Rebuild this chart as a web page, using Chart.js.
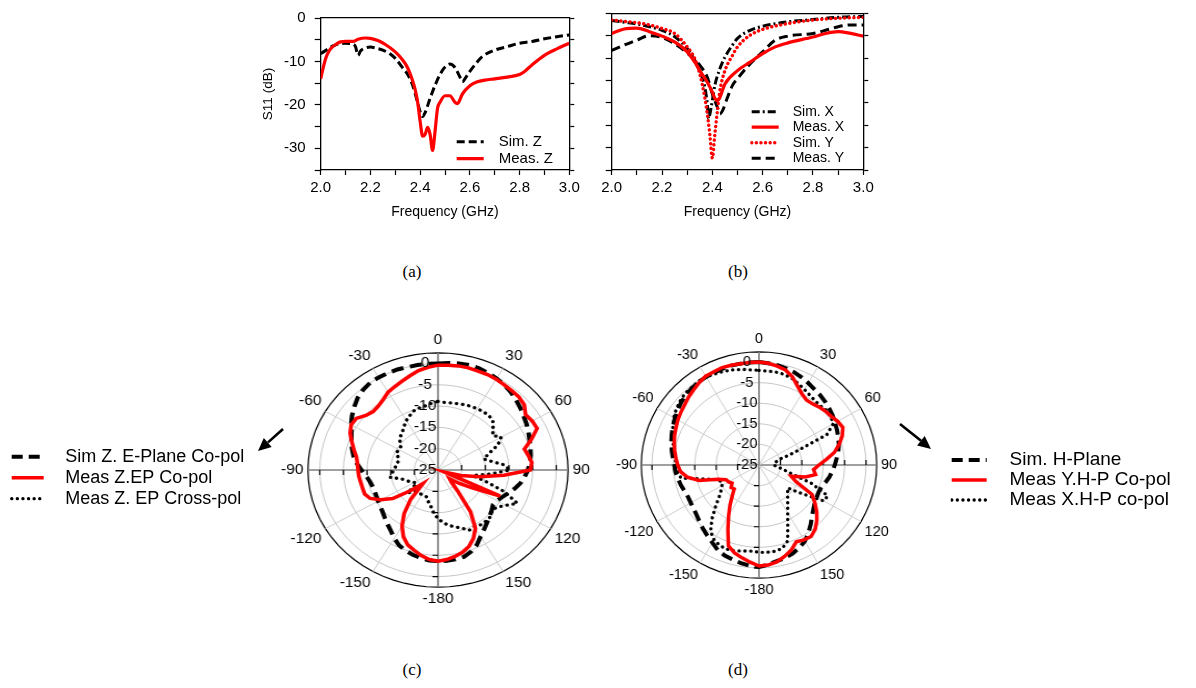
<!DOCTYPE html>
<html lang="en">
<head>
<meta charset="utf-8">
<title>S11 and radiation patterns</title>
<script src="https://cdn.jsdelivr.net/npm/chart.js@4.4.1/dist/chart.umd.min.js"></script>
<style>
  html, body { margin: 0; padding: 0; background: #fff; }
  body { position: relative; width: 1196px; height: 688px; overflow: hidden; }
  canvas { position: absolute; }
  .cap { position: absolute; width: 60px; margin-left: -30px; text-align: center;
         font: 17px/20px "Liberation Serif", "DejaVu Serif", serif; color: #000; }
  svg { position: absolute; left: 0; top: 0; }
</style>
</head>
<body>
<canvas id="s11Z" width="345" height="225" style="left:250px;top:0"></canvas>
<canvas id="s11XY" width="290" height="225" style="left:595px;top:0"></canvas>
<canvas id="patternE" width="340" height="276" style="left:268.3px;top:333px;transform:scaleX(1.11);transform-origin:170px 138px"></canvas>
<canvas id="patternH" width="340" height="268" style="left:588.5px;top:332px;transform:scaleX(1.04);transform-origin:170px 134px"></canvas>
<canvas id="legendE" width="290" height="90" style="left:0;top:430px"></canvas>
<canvas id="legendH" width="266" height="90" style="left:930px;top:430px"></canvas>

<div class="cap" style="left:412px;top:262px">(a)</div>
<div class="cap" style="left:738px;top:262px">(b)</div>
<div class="cap" style="left:412px;top:660px">(c)</div>
<div class="cap" style="left:738px;top:660px">(d)</div>

<svg width="1196" height="688">
  <line x1="283" y1="429" x2="268" y2="442.4" stroke="#000" stroke-width="2.6"/>
  <polygon points="258,451 263.8,437.9 271.7,446.9" fill="#000"/>
  <line x1="900" y1="424" x2="921" y2="440.8" stroke="#000" stroke-width="2.6"/>
  <polygon points="931,449 917.1,445.5 924.7,436.1" fill="#000"/>
</svg>

<script>
// ---------- (a) S11, Z orientation ----------
const simZFreq = [2.00, 2.02, 2.04, 2.06, 2.08, 2.10, 2.12, 2.13, 2.14, 2.15, 2.16, 2.18, 2.20, 2.22, 2.25,
  2.28, 2.30, 2.33, 2.35, 2.37, 2.39, 2.40, 2.41, 2.42, 2.44, 2.46, 2.48, 2.50, 2.52, 2.54, 2.56, 2.57,
  2.58, 2.60, 2.62, 2.65, 2.70, 2.75, 2.80, 2.85, 2.90, 2.95, 3.00];
const simZ = [-8.2, -7.5, -6.7, -6.2, -5.9, -5.8, -5.9, -6.0, -6.6, -8.6, -7.6, -6.9, -6.7, -6.9, -7.4,
  -8.3, -9.3, -11.5, -13.0, -15.5, -19.5, -21.6, -22.7, -21.8, -18.5, -15.5, -13.0, -11.3, -10.6, -11.4, -13.6, -14.7,
  -14.0, -12.3, -10.8, -8.9, -7.4, -6.6, -5.8, -5.4, -4.8, -4.3, -3.9];
const measZFreq = [2.00, 2.01, 2.02, 2.03, 2.04, 2.06, 2.08, 2.10, 2.13, 2.15, 2.18, 2.20, 2.23, 2.26, 2.30,
  2.33, 2.35, 2.37, 2.38, 2.39, 2.40, 2.41, 2.42, 2.43, 2.44, 2.45, 2.46, 2.47, 2.48, 2.50, 2.52, 2.54,
  2.55, 2.57, 2.60, 2.63, 2.66, 2.70, 2.75, 2.80, 2.82, 2.85, 2.90, 2.95, 3.00];
const measZ = [-14.0, -11.5, -9.3, -8.0, -7.1, -6.1, -5.5, -5.4, -5.4, -4.9, -4.6, -4.7, -5.2, -6.1, -7.8,
  -9.7, -11.5, -14.5, -16.5, -19.4, -23.8, -27.2, -26.8, -25.2, -26.8, -30.5, -26.1, -20.8, -19.4, -17.9, -17.9, -19.4,
  -19.7, -17.5, -15.6, -14.7, -14.3, -14.0, -13.6, -13.0, -12.3, -10.8, -8.6, -7.1, -5.8];

// ---------- (b) S11, X and Y orientations ----------
const simXFreq = [2.00, 2.05, 2.10, 2.15, 2.20, 2.25, 2.30, 2.33, 2.35, 2.37, 2.38, 2.385, 2.39, 2.40, 2.41,
  2.43, 2.45, 2.48, 2.50, 2.55, 2.60, 2.70, 2.80, 2.90, 3.00];
const simX = [-1.6, -2.0, -2.4, -3.0, -3.8, -5.2, -7.9, -10.5, -12.8, -16.5, -20.3, -23.5, -22.6, -19.5, -16.1,
  -12.4, -9.8, -7.1, -5.6, -3.8, -2.9, -1.9, -1.4, -0.9, -0.7];
const measXFreq = [2.00, 2.05, 2.10, 2.15, 2.20, 2.25, 2.30, 2.33, 2.35, 2.38, 2.40, 2.41, 2.42, 2.43, 2.45,
  2.50, 2.55, 2.60, 2.65, 2.70, 2.80, 2.85, 2.90, 2.95, 3.00];
const measX = [-4.5, -3.5, -3.3, -4.1, -5.1, -6.4, -8.6, -10.9, -12.8, -15.4, -17.6, -19.0, -19.5, -18.8, -15.8,
  -12.8, -10.9, -9.0, -7.5, -6.6, -5.3, -4.5, -4.1, -4.5, -5.1];
const simYFreq = [2.00, 2.05, 2.10, 2.15, 2.20, 2.25, 2.30, 2.33, 2.35, 2.37, 2.38, 2.39, 2.40, 2.41, 2.42,
  2.43, 2.45, 2.48, 2.50, 2.55, 2.60, 2.70, 2.80, 2.90, 3.00];
const simY = [-1.5, -1.8, -2.1, -2.6, -3.4, -4.5, -7.5, -10.1, -13.5, -18.8, -22.5, -27.0, -32.3, -27.0, -21.8,
  -17.3, -12.8, -9.4, -7.5, -4.9, -3.6, -2.3, -1.5, -1.1, -0.9];
const measYFreq = [2.00, 2.05, 2.10, 2.15, 2.20, 2.25, 2.30, 2.35, 2.38, 2.40, 2.42, 2.43, 2.44, 2.46, 2.48,
  2.50, 2.55, 2.60, 2.65, 2.70, 2.80, 2.85, 2.90, 2.95, 3.00];
const measY = [-8.3, -7.1, -6.0, -5.0, -5.4, -6.8, -8.9, -11.6, -14.3, -18.0, -21.0, -22.5, -21.8, -18.8, -16.1,
  -14.6, -11.3, -8.6, -6.0, -5.1, -4.5, -3.8, -3.0, -2.6, -2.6];

// axis labels of the S11 panels
const freqLabels = [2.0, 2.2, 2.4, 2.6, 2.8, 3.0];
const s11Labels = [0, -10, -20, -30];

// ---------- (c), (d) radiation patterns, 5 degree steps ----------
const patternAngles = [0, 5, 10, 15, 20, 25, 30, 35, 40, 45, 50, 55, 60, 65, 70, 75, 80, 85, 90, 95, 100, 105,
  110, 115, 120, 125, 130, 135, 140, 145, 150, 155, 160, 165, 170, 175, -180, -175, -170, -165, -160, -155,
  -150, -145, -140, -135, -130, -125, -120, -115, -110, -105, -100, -95, -90, -85, -80, -75, -70, -65, -60,
  -55, -50, -45, -40, -35, -30, -25, -20, -15, -10, -5];
const ringLevels = [-25, -20, -15, -10, -5, 0];

const simZEPlane = [0, 0.2, 0.4, 0.5, 0.4, 0.1, -0.2, -0.6, -1.1, -1.7,
  -2.3, -2.9, -3.4, -3.9, -4.4, -4.8, -5.1, -5.5, -6.0, -6.6,
  -7.3, -8.2, -9.2, -10.0, -10.6, -10.8, -10.2, -9.6, -8.9, -8.0,
  -7.0, -5.6, -4.6, -3.9, -3.7, -3.6,
  -3.6, -3.7, -4.0, -4.4, -4.9, -5.5, -6.5, -7.6, -8.4, -9.1,
  -9.7, -10.1, -10.4, -10.6, -10.7, -10.6, -10.3, -9.7, -8.8, -7.8,
  -6.9, -6.2, -5.5, -4.8, -3.8, -2.8, -1.9, -1.0, -0.4, 0,
  0.1, 0.1, 0.1, 0, 0, 0];
const measZEPlane = [-0.4, -0.3, -0.2, -0.2, -0.3, -0.3, -0.4, -0.6, -0.7, -0.8,
  -1.2, -2.4, -2.0, -1.9, -4.0, -6.1, -5.6, -5.1, -5.5, -11.0,
  -16.0, -20.0, -23.5, -10.5, -16.5, -19.5, -21.8, -21.0, -18.5, -13.0,
  -9.2, -7.3, -5.9, -5.0, -4.4, -3.9,
  -3.6, -3.9, -4.6, -5.5, -6.3, -7.7, -9.8, -12.5, -16.0, -20.5,
  -17.5, -13.3, -11.0, -9.2, -8.5, -8.5, -8.4, -8.2, -8.1, -7.9,
  -7.5, -6.6, -5.6, -4.5, -3.8, -3.9, -5.1, -5.6, -5.4, -4.8,
  -3.9, -3.4, -2.8, -2.1, -1.3, -0.8];
const measZCross = [-8.9, -9.1, -9.0, -8.9, -8.7, -8.5, -8.4, -8.3, -8.3, -8.6,
  -9.8, -10.9, -9.6, -11.0, -13.5, -15.0, -13.5, -11.0, -9.8, -14.0,
  -17.5, -14.5, -10.0, -6.5, -8.4, -9.8, -10.2, -9.4, -9.3, -9.3,
  -9.6, -9.4, -10.5, -11.2, -11.8, -12.6,
  -13.6, -14.8, -16.3, -17.2, -18.2, -18.4, -18.3, -18.3, -18.2, -18.0,
  -16.6, -19.5, -19.2, -18.5, -17.8, -17.0, -14.8, -15.2, -15.6, -16.0,
  -16.2, -16.4, -16.0, -15.3, -15.5, -15.4, -14.5, -13.8, -13.3, -12.5,
  -11.6, -10.9, -10.2, -9.9, -9.7, -9.3];

const simHPlane = [0, -0.2, -0.4, -0.7, -1.0, -1.5, -2.0, -2.5, -2.8, -3.2,
  -3.6, -4.0, -4.5, -4.9, -5.3, -5.7, -6.2, -6.8, -7.3, -7.8,
  -8.3, -8.9, -9.5, -9.6, -9.4, -9.1, -8.4, -7.5, -6.2, -4.9,
  -3.6, -2.8, -2.1, -1.6, -1.3, -0.7,
  -0.2, -0.4, -0.8, -1.2, -1.6, -2.2, -3.2, -4.0, -4.7, -5.4,
  -6.0, -6.4, -6.6, -6.7, -6.5, -6.1, -5.8, -5.4, -5.2, -4.8,
  -4.3, -3.8, -3.3, -2.8, -2.3, -1.8, -1.3, -0.9, -0.6, -0.4,
  -0.3, -0.2, -0.1, 0, 0, 0];
const measYHPlane = [0, -0.2, -0.6, -1.1, -2.2, -3.8, -5.0, -5.7, -5.6, -5.1,
  -4.7, -4.4, -3.8, -3.4, -4.3, -5.6, -7.1, -9.2, -11.0, -12.2,
  -11.6, -13.8, -17.0, -15.5, -10.7, -9.1, -7.4, -5.9, -4.6, -3.8,
  -4.0, -4.4, -3.0, -2.0, -1.1, -0.6,
  -0.45, -1.3, -2.1, -2.9, -4.1, -7.8, -10.8, -13.2, -15.3, -16.8,
  -16.5, -17.3, -16.8, -16.5, -14.8, -10.5, -8.0, -6.6, -6.0, -5.5,
  -5.0, -4.5, -4.0, -3.6, -3.1, -2.7, -2.3, -1.7, -1.2, -0.6,
  -0.1, 0, 0.2, 0.1, 0, 0];
const measXHPlane = [-2.0, -2.1, -2.1, -2.2, -2.6, -3.2, -3.8, -4.3, -4.6, -4.7,
  -4.4, -4.5, -5.0, -7.5, -16.5, -20.5, -21.0, -21.5, -21.5, -21.0,
  -19.5, -17.5, -12.0, -7.3, -7.5, -13.0, -16.3, -15.5, -14.6, -13.3,
  -11.6, -9.1, -5.4, -4.0, -3.7, -3.7,
  -3.8, -4.0, -3.8, -3.4, -3.2, -3.4, -4.0, -5.3, -7.9, -10.6,
  -12.8, -14.2, -15.0, -15.4, -14.5, -12.0, -6.5, -6.0, -5.7, -5.3,
  -4.9, -4.2, -3.5, -2.8, -2.0, -1.4, -0.9, -0.5, -0.5, -0.2,
  -0.3, -0.6, -0.8, -1.1, -1.4, -1.8];

// ---------- shared helpers ----------
Chart.defaults.font.family = '"Liberation Sans", Arial, Helvetica, sans-serif';
Chart.defaults.color = '#000';
Chart.defaults.animation = false;

const RED = '#ff0000';
const BLACK = '#000000';

function points(xs, ys) {
  return xs.map((x, i) => ({ x, y: ys[i] }));
}

// legend entries taken straight from the dataset line styles
function legendItems(lead) {
  return chart => chart.data.datasets.map((ds, i) => ({
    text: lead + ds.label,
    strokeStyle: ds.borderColor,
    fillStyle: ds.borderColor,
    lineWidth: ds.borderWidth,
    lineDash: ds.borderDash || [],
    lineCap: ds.borderCapStyle || 'butt',
    pointStyle: 'line',
    hidden: false,
    datasetIndex: i,
    fontColor: '#000'
  }));
}

// places a 'chartArea' legend at a fixed spot of the canvas
const legendSpot = {
  id: 'legendSpot',
  afterLayout(chart, args, opts) {
    const lg = chart.legend;
    if (!lg || opts.x == null) return;
    const pad = chart.options.plugins.legend.labels.padding;
    const w = lg.width, h = lg.height;
    lg.left = opts.x - pad;
    lg.top = opts.y - pad;
    lg.right = lg.left + w;
    lg.bottom = lg.top + h;
  }
};

// small tick marks along the horizontal and vertical axes of a polar grid
const axisTicks = {
  id: 'axisTicks',
  beforeDatasetsDraw(chart) {
    const r = chart.scales.r;
    const ctx = chart.ctx;
    const cx = r.xCenter, cy = r.yCenter;
    ctx.save();
    ctx.strokeStyle = '#000';
    ctx.lineWidth = 1.2;
    ctx.beginPath();
    ringLevels.slice(1).forEach(v => {
      const d = r.getDistanceFromCenterForValue(v);
      ctx.moveTo(cx - d, cy); ctx.lineTo(cx - d, cy + 5);
      ctx.moveTo(cx + d, cy); ctx.lineTo(cx + d, cy - 5);
      ctx.moveTo(cx, cy + d); ctx.lineTo(cx - 5, cy + d);
    });
    ctx.stroke();
    ctx.restore();
  }
};

function s11Chart(canvasId, datasets, cfg) {
  const tickMarks = { display: true, drawOnChartArea: false, drawTicks: true, tickLength: 5, tickWidth: 1.2, tickColor: '#000' };
  const frame = { display: true, color: '#000', width: 1.3 };
  return new Chart(document.getElementById(canvasId), {
    type: 'line',
    data: { datasets },
    options: {
      responsive: false, animation: false, events: [],
      layout: { padding: { top: 13.3, left: 0, right: 0, bottom: 0 } },
      elements: { point: { radius: 0 }, line: { cubicInterpolationMode: 'monotone' } },
      plugins: {
        tooltip: { enabled: false },
        legend: {
          position: 'chartArea', align: 'start',
          labels: {
            usePointStyle: true, pointStyle: 'line', pointStyleWidth: cfg.sampleWidth,
            padding: cfg.legendGap, color: '#000', font: { size: cfg.legendSize },
            generateLabels: legendItems('\u2002')
          }
        },
        legendSpot: { x: cfg.legendX, y: cfg.legendY }
      },
      scales: {
        x: {
          type: 'linear', position: 'bottom', min: 2, max: 3,
          grid: tickMarks, border: frame,
          ticks: {
            stepSize: 0.1, autoSkip: false, maxRotation: 0, minRotation: 0, padding: 4, font: { size: 15 },
            callback: v => {
              const f = Math.round(v * 10) / 10;
              return freqLabels.includes(f) ? f.toFixed(1) : '';
            }
          },
          title: { display: true, text: 'Frequency (GHz)', font: { size: 14 }, padding: { top: 0, bottom: 4 } },
          afterFit: s => { s.height = 55; }
        },
        xTop: {
          type: 'linear', position: 'top', min: 2, max: 3,
          grid: { display: false }, border: frame, ticks: { display: false },
          afterFit: s => { s.height = 0; }
        },
        y: {
          type: 'linear', position: 'left', min: -35, max: 0,
          grid: Object.assign({}, tickMarks, { tickLength: 6 }), border: frame,
          ticks: {
            stepSize: 5, autoSkip: false, display: cfg.yLabels, padding: 9, font: { size: 15 },
            callback: v => s11Labels.includes(v) ? String(v) : ''
          },
          title: { display: cfg.yLabels, text: 'S11 (dB)', font: { size: 13.5 }, padding: { top: 10, bottom: 0 } },
          afterFit: s => { s.width = cfg.leftW; }
        },
        yRight: {
          type: 'linear', position: 'right', min: -35, max: 0,
          grid: tickMarks, border: frame,
          ticks: { stepSize: 5, autoSkip: false, display: false },
          afterFit: s => { s.width = cfg.rightW; }
        }
      }
    },
    plugins: [legendSpot]
  });
}

function patternChart(canvasId, datasets, outer) {
  return new Chart(document.getElementById(canvasId), {
    type: 'radar',
    data: { labels: patternAngles, datasets },
    options: {
      responsive: false, animation: false, events: [],
      plugins: { legend: { display: false }, tooltip: { enabled: false } },
      elements: { point: { radius: 0, hitRadius: 0 }, line: { tension: 0, fill: false } },
      scales: {
        r: {
          min: -25, max: outer, startAngle: 0,
          afterBuildTicks: s => { s.ticks = ringLevels.concat([outer]).map(value => ({ value })); },
          grid: {
            color: c => (c.tick && c.tick.value === outer) ? '#000' : '#c6c6c6',
            lineWidth: c => (c.tick && c.tick.value === outer) ? 1.2 : 1
          },
          angleLines: {
            display: true,
            color: c => c.index % 18 === 0 ? '#808080' : '#cdcdcd',
            lineWidth: c => c.index % 18 === 0 ? 1.6 : (c.index % 6 === 0 ? 1 : 0)
          },
          ticks: {
            z: 1, color: '#000', font: { size: 14 }, showLabelBackdrop: false, backdropPadding: -7,
            callback: v => v === outer ? '' : v + '\u2007\u2007\u2007'
          },
          pointLabels: {
            display: true, color: '#000', font: { size: 14 }, padding: 4,
            callback: lbl => Number(lbl) % 30 === 0 ? String(lbl) : ''
          }
        }
      }
    },
    plugins: [axisTicks]
  });
}

function legendChart(canvasId, datasets, cfg) {
  return new Chart(document.getElementById(canvasId), {
    type: 'line',
    data: { datasets: datasets.map(d => Object.assign({}, d, { data: [] })) },
    options: {
      responsive: false, animation: false, events: [],
      scales: { x: { display: false }, y: { display: false } },
      plugins: {
        tooltip: { enabled: false },
        legend: {
          position: 'chartArea', align: 'start',
          labels: {
            usePointStyle: true, pointStyle: 'line', pointStyleWidth: cfg.sampleWidth,
            padding: cfg.gap, color: '#000', font: { size: cfg.size },
            generateLabels: legendItems('\u2002\u2009')
          }
        },
        legendSpot: { x: cfg.x, y: cfg.y }
      }
    },
    plugins: [legendSpot]
  });
}

// ---------- (a) ----------
s11Chart('s11Z', [
  { label: 'Sim. Z', data: points(simZFreq, simZ), borderColor: BLACK, borderWidth: 3, borderDash: [8, 4], order: 1 },
  { label: 'Meas. Z', data: points(measZFreq, measZ), borderColor: RED, borderWidth: 3.2, order: 0 }
], { leftW: 70.7, rightW: 25.7, yLabels: true, legendX: 206.7, legendY: 134.2, legendSize: 15, legendGap: 2, sampleWidth: 27 });

// ---------- (b) ----------
s11Chart('s11XY', [
  { label: 'Sim. X', data: points(simXFreq, simX), borderColor: BLACK, borderWidth: 3, borderDash: [8, 3, 2, 3], order: 2 },
  { label: 'Meas. X', data: points(measXFreq, measX), borderColor: RED, borderWidth: 3.2, order: 1 },
  { label: 'Sim. Y', data: points(simYFreq, simY), borderColor: RED, borderWidth: 3.4, borderDash: [0.1, 4.5], borderCapStyle: 'round', order: 0 },
  { label: 'Meas. Y', data: points(measYFreq, measY), borderColor: BLACK, borderWidth: 3, borderDash: [9, 5], order: 3 }
], { leftW: 16.7, rightW: 21.7, yLabels: false, legendX: 156.7, legendY: 104.7, legendSize: 14, legendGap: 1.5, sampleWidth: 27 });

// ---------- (c) E-plane ----------
const ePlaneSets = [
  { label: 'Sim Z. E-Plane Co-pol', data: simZEPlane, borderColor: BLACK, borderWidth: 4, borderDash: [11, 6], fill: false, order: 1 },
  { label: 'Meas Z.EP Co-pol', data: measZEPlane, borderColor: RED, borderWidth: 3.5, fill: false, order: 0 },
  { label: 'Meas Z. EP Cross-pol', data: measZCross, borderColor: BLACK, borderWidth: 3.3, borderDash: [0.1, 5.5], borderCapStyle: 'round', fill: false, order: 2 }
];
patternChart('patternE', ePlaneSets, 2.5);
legendChart('legendE', ePlaneSets, { x: 11.7, y: 17.7, size: 18, gap: 3, sampleWidth: 32 });

// ---------- (d) H-plane ----------
const hPlaneSets = [
  { label: 'Sim. H-Plane', data: simHPlane, borderColor: BLACK, borderWidth: 4, borderDash: [11, 6], fill: false, order: 1 },
  { label: 'Meas Y.H-P Co-pol', data: measYHPlane, borderColor: RED, borderWidth: 3.5, fill: false, order: 0 },
  { label: 'Meas X.H-P co-pol', data: measXHPlane, borderColor: BLACK, borderWidth: 3.3, borderDash: [0.1, 5.5], borderCapStyle: 'round', fill: false, order: 2 }
];
patternChart('patternH', hPlaneSets, 2.5);
legendChart('legendH', hPlaneSets, { x: 21.7, y: 20.5, size: 19, gap: 1, sampleWidth: 35 });
</script>
</body>
</html>
